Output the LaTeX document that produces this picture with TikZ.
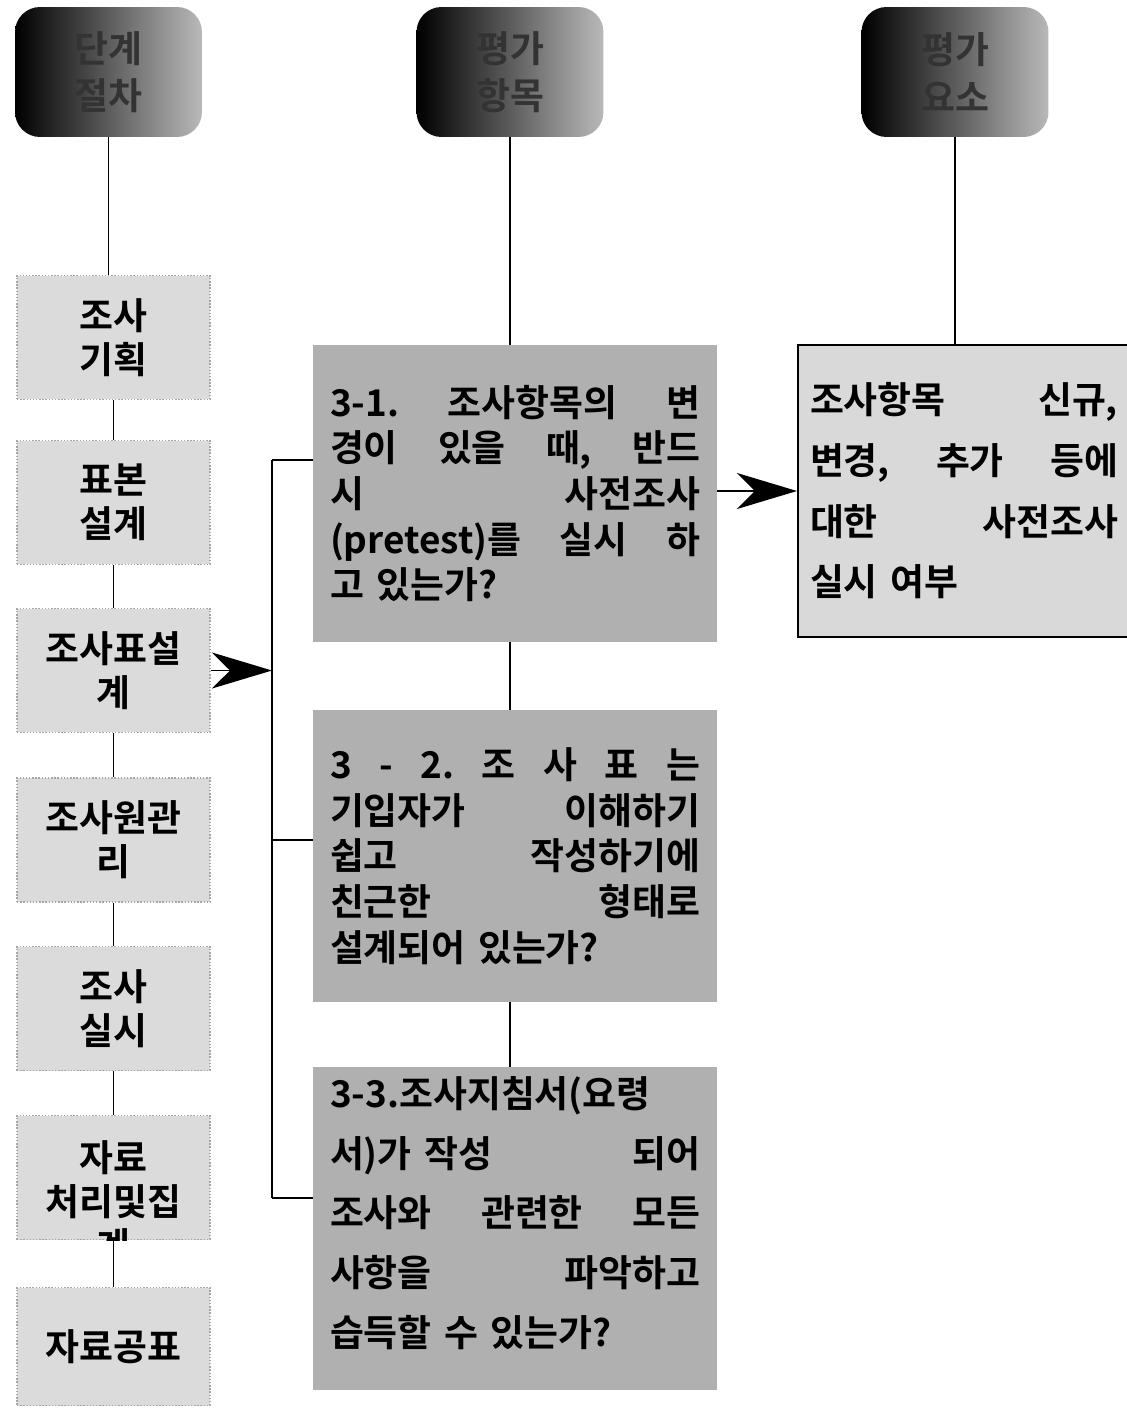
\documentclass[tikz,border=0pt]{standalone}
\usepackage{fontspec}
\setmainfont{Noto Sans CJK KR}[BoldFont={* Bold}]
\usetikzlibrary{arrows.meta}
\begin{document}
\begin{tikzpicture}[x=0.02cm,y=-0.02cm,
  hdr/.style={rounded corners=0.5cm,shading=axis,left color=black,right color=gray!55,
    minimum width=3.74cm,minimum height=2.6cm,inner sep=0pt,align=center,
    font=\bfseries\fontsize{21}{27}\selectfont,text=black!80},
  lbox/.style={fill=gray!28,draw=gray!70,densely dotted,line width=0.8pt,
    minimum width=3.86cm,minimum height=2.48cm,inner sep=0pt,align=center,
    font=\bfseries\fontsize{21}{25}\selectfont},
  ltext/.style={inner sep=0pt,align=center,font=\bfseries\fontsize{21}{25}\selectfont},
  mbox/.style={fill=gray!62,draw=none,text width=7.4cm,inner xsep=0.34cm,inner ysep=0pt,
    align=left,font=\bfseries\fontsize{21}{26}\selectfont},
  mtext/.style={text width=7.4cm,inner sep=0pt,align=left,font=\bfseries\fontsize{21}{34}\selectfont},
  rbox/.style={fill=gray!30,draw=black,line width=1.2pt,text width=6.16cm,inner xsep=0.24cm,
    inner ysep=0pt,align=left,minimum height=5.84cm,font=\bfseries\fontsize{21}{34.5}\selectfont},
  conn/.style={line width=1.1pt},
  arr/.style={line width=1.1pt,-{Stealth[length=1.2cm,width=0.72cm,inset=0.36cm]}}
]
\useasboundingbox (0,0) rectangle (1126,1409);
% headers
\node[hdr] (h1) at (108.5,72) {단계\\절차};
\node[hdr] (h2) at (510,72) {평가\\항목};
\node[hdr] (h3) at (955,72) {평가\\요소};
% left column
\node[lbox] (l1) at (113.5,337.5) {조사\\기획};
\node[lbox] (l2) at (113.5,502.5) {표본\\설계};
\node[lbox] (l3) at (113.5,670.5) {조사표설\\계};
\node[lbox] (l4) at (113.5,840) {조사원관\\리};
\node[lbox] (l5) at (113.5,1008.5) {조사\\실시};
\node[lbox] (l6) at (113.5,1177.5) {};
\begin{scope}
  \clip (l6.north west) rectangle (l6.south east);
  \node[ltext] (l6t) at (113.5,1202) {자료\\처리및집\\계};
\end{scope}
\node[lbox,minimum height=2.36cm] (l7) at (113.5,1346.5) {자료공표};
% middle column
\node[mbox,minimum height=5.94cm] (b31) at (515,493.5) {3-1.\hfill 조사항목의\hfill 변\\경이\hfill 있을\hfill 때,\hfill 반드\\시\hfill 사전조사\\(pretest)를\hfill 실시\hfill 하\\고 있는가?};
\node[mbox,minimum height=5.84cm] (b32) at (515,856) {3\hfill -\hfill 2.\hfill 조\hfill 사\hfill 표\hfill 는\\기입자가\hfill 이해하기\\쉽고\hfill 작성하기에\\친근한\hfill 형태로\\설계되어 있는가?};
\node[mbox,minimum width=8.08cm,minimum height=6.46cm] (b33) at (515,1228.5) {};
\node[mtext] (b33t) at (515,1213) {3-3.조사지침서(요령\\서)가 작성\hfill 되어\\조사와\hfill 관련한\hfill 모든\\사항을\hfill 파악하고\\습득할 수 있는가?};
% right
\node[rbox] (r) at (964,491) {조사항목\hfill 신규,\\변경,\hfill 추가\hfill 등에\\대한\hfill 사전조사\\실시 여부};
% connectors left
\draw[conn] (h1.south) -- (h1.south |- l1.north);
\draw[conn] (l1) -- (l2);
\draw[conn] (l2) -- (l3);
\draw[conn] (l3) -- (l4);
\draw[conn] (l4) -- (l5);
\draw[conn] (l5) -- (l6);
\draw[conn] (l6) -- (l7);
% bracket
\coordinate (brtop) at (272,460);
\coordinate (brmid) at (272,840);
\coordinate (brbot) at (272,1198);
\draw[line width=1.6pt] (brtop) -- (brbot);
\draw[conn] (brtop) -- (brtop -| b31.west);
\draw[conn] (brmid) -- (brmid -| b32.west);
\draw[conn] (brbot) -- (brbot -| b33.west);
\draw[arr] (l3.east) -- (l3.east -| brtop);
% middle connectors
\draw[conn] (h2.south) -- (h2.south |- b31.north);
\draw[conn] (b31.south -| h2.south) -- (h2.south |- b32.north);
\draw[conn] (b32.south -| h2.south) -- (h2.south |- b33.north);
% right connectors
\draw[conn] (h3.south) -- (h3.south |- r.north);
\draw[arr] (b31.east |- r.west) -- (r.west);
\end{tikzpicture}
\end{document}
